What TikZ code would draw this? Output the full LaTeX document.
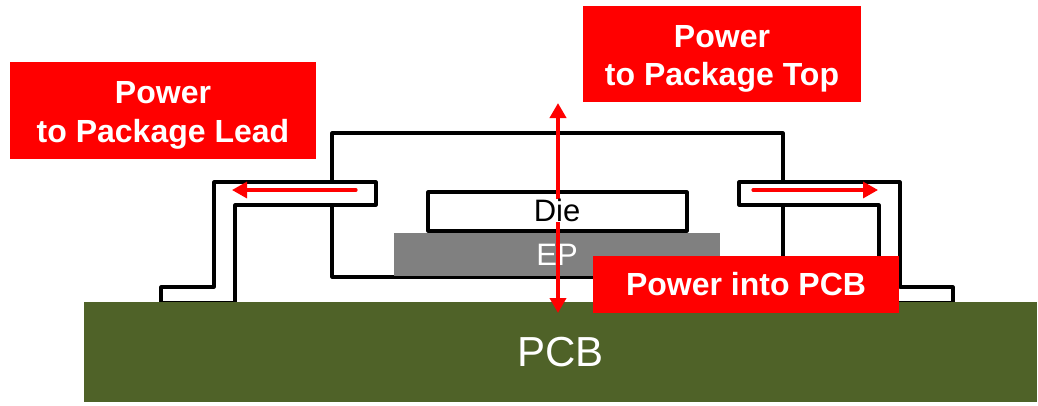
\documentclass[tikz,border=0pt]{standalone}
\usepackage{fontspec}
\setmainfont{Liberation Sans}
\usetikzlibrary{arrows.meta}
\definecolor{pcbgreen}{HTML}{4F6228}
\definecolor{epgray}{HTML}{808080}
\newcommand{\firstline}{\rule{0pt}{32pt}}
\tikzset{
  x=1pt,y=-1pt,
  outline/.style={draw=black,line width=3.2pt,line join=round,fill=white},
  redbox/.style={fill=red,text=white,font=\fontsize{32}{38.5}\selectfont\bfseries,align=center,anchor=center,inner sep=0pt,minimum height=#1},
  flow/.style={draw=red,line width=#1,line cap=round},
}
\begin{document}
\begin{tikzpicture}
\useasboundingbox (0,0) rectangle (1038,405);
% package body
\draw[outline,fill=none] (332,277) -- (332,133) -- (783,133) -- (783,277) -- cycle;
% exposed pad
\node[fill=epgray,text=white,inner sep=0pt,minimum width=326pt,minimum height=43pt,font=\fontsize{31}{37}\selectfont] (ep) at (557,254.5) {EP};
% die
\node[outline,inner sep=0pt,minimum width=259pt,minimum height=39pt] (die) at (557.5,211.5) {};
% leads
\draw[outline] (161,303) -- (161,287) -- (214,287) -- (214,182) -- (376,182) -- (376,205) -- (235,205) -- (235,303) -- cycle;
\draw[outline] (953,303) -- (953,287) -- (900,287) -- (900,182) -- (739,182) -- (739,205) -- (879,205) -- (879,303) -- cycle;
% PCB
\node[fill=pcbgreen,text=white,inner sep=0pt,minimum width=953pt,minimum height=100pt,font=\fontsize{42}{50}\selectfont] (pcb) at (560.5,352) {PCB};
% flow arrows
\coordinate (topend) at (558,103);
\coordinate (botend) at (558,313);
\coordinate (ltail) at (356,190);
\coordinate (lhead) at (232,190);
\coordinate (rtail) at (753,190);
\coordinate (rhead) at (878,190);
\draw[flow=4pt,{Triangle[length=15pt,width=16pt,color=red]}-{Triangle[length=15pt,width=16pt,color=red]}] (topend) -- (botend);
\draw[flow=3.2pt,-{Triangle[length=15pt,width=16pt,color=red]}] (ltail) -- (lhead);
\draw[flow=3.2pt,-{Triangle[length=15pt,width=16pt,color=red]}] (rtail) -- (rhead);
% die label, over the arrow
\node[fill=white,inner sep=0pt,font=\fontsize{31}{37}\selectfont] (dielabel) at (557,210.5) {Die};
% red labels
\node[redbox=97pt,minimum width=306pt] (lead) at (163,110.5) {\firstline Power\\to Package Lead};
\node[redbox=96pt,minimum width=278pt] (top) at (722,54) {\firstline Power\\to Package Top};
\node[redbox=57pt,minimum width=306pt] (into) at (746,284.5) {Power into PCB};
\end{tikzpicture}
\end{document}
